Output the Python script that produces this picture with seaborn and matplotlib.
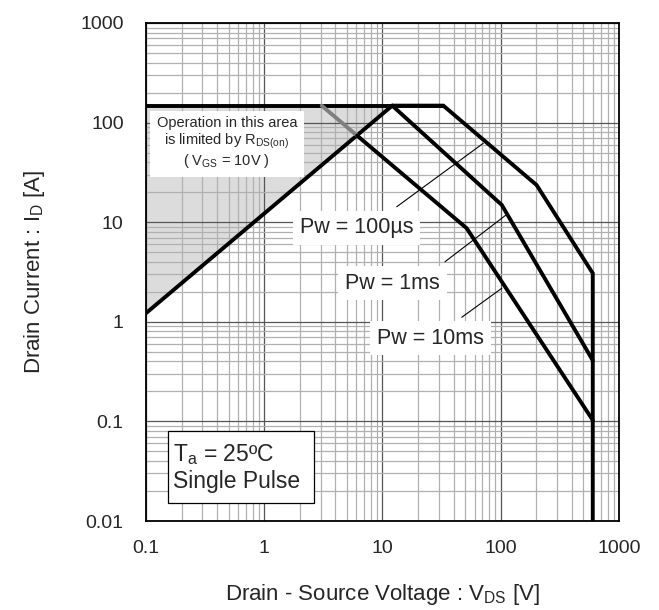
import matplotlib
matplotlib.use("Agg")
import matplotlib.pyplot as plt
from matplotlib.patches import Rectangle
import seaborn as sns
import pandas as pd

# ==========================================
# Data
# ==========================================

id_max = 148

top_v = [0.1, 32.7]
top_i = [id_max, id_max]

rds_v = [0.1, 12.1]
rds_i = [1.22, id_max]

pw100_v = [12.1, 32.7, 201, 600, 600]
pw100_i = [id_max, id_max, 23.6, 3.07, 0.01]

pw1ms_v = [12.1, 102, 600]
pw1ms_i = [id_max, 14.9, 0.41]

pw10ms_v = [6.1, 51.5, 600]
pw10ms_i = [74, 8.7, 0.103]

pw10ms_gray_v = [3.06, 6.1]
pw10ms_gray_i = [id_max, 74]

labels = ["Pw = 100µs", "Pw = 1ms", "Pw = 10ms"]
label_v = [2.0, 4.82, 8.98]
label_i = [8.75, 2.45, 0.687]
leader_v = [[13.2, 71.2], [33.8, 110.7], [46.8, 102]]
leader_i = [[14.3, 62.0], [4.01, 11.8], [1.11, 2.17]]

x_ticks = [0.1, 1, 10, 100, 1000]
x_ticklabels = ["0.1", "1", "10", "100", "1000"]
y_ticks = [0.01, 0.1, 1, 10, 100, 1000]
y_ticklabels = ["0.01", "0.1", "1", "10", "100", "1000"]

# ==========================================
# Style
# ==========================================

sns.set_style("white")
plt.rcParams["font.family"] = ["Liberation Sans", "DejaVu Sans"]
plt.rcParams["mathtext.fontset"] = "custom"
plt.rcParams["mathtext.rm"] = "Liberation Sans"

fig = plt.figure(figsize=(6.59, 6.10), dpi=100)
ax = fig.add_axes([0.2215, 0.1459, 0.7178, 0.8164])

ax.set_xscale("log")
ax.set_yscale("log")
ax.set_xlim(0.1, 1000)
ax.set_ylim(0.01, 1000)

# ==========================================
# Grid
# ==========================================

ax.grid(True, which="major", color="#555555", linewidth=0.9, zorder=1.5)
ax.grid(True, which="minor", color="#b0b0b0", linewidth=0.9, zorder=1.5)
ax.set_axisbelow("line")

# ==========================================
# Shaded R_DS(on) area
# ==========================================

ax.fill_between(rds_v, rds_i, id_max, color="#dcdcdc", zorder=1.0, linewidth=0)

# ==========================================
# Curves
# ==========================================

def draw(v, i, color="black", lw=2.8):
    df = pd.DataFrame({"VDS": v, "ID": i})
    sns.lineplot(data=df, x="VDS", y="ID", sort=False, estimator=None,
                 color=color, linewidth=lw, ax=ax, zorder=3,
                 solid_joinstyle="miter")

draw(top_v, top_i)
draw(rds_v, rds_i)
draw(pw10ms_gray_v, pw10ms_gray_i, color="#7f7f7f")
draw(pw100_v, pw100_i)
draw(pw1ms_v, pw1ms_i)
draw(pw10ms_v, pw10ms_i)

for lv, li in zip(leader_v, leader_i):
    ax.plot(lv, li, color="black", linewidth=0.8, zorder=3)

for text, tv, ti in zip(labels, label_v, label_i):
    ax.text(tv, ti, text, fontsize=15.5, ha="left", va="center", zorder=4,
            bbox=dict(facecolor="white", edgecolor="none", pad=5))

# ==========================================
# Annotation boxes
# ==========================================

ax.text(0.171, 0.759,
        "Operation in this area\n"
        "is limited by R$_\\mathregular{DS(on)}$\n"
        "( V$_\\mathregular{GS}$ = 10V )",
        transform=ax.transAxes, fontsize=10.5, ha="center", va="center",
        linespacing=1.1, zorder=4,
        bbox=dict(facecolor="white", edgecolor="none", pad=5))

ax.add_patch(Rectangle((0.0465, 0.036), 0.3085, 0.145, transform=ax.transAxes,
                       facecolor="white", edgecolor="black", linewidth=0.9,
                       zorder=4))
ax.text(0.057, 0.1325, "T$_\\mathregular{a}$ = 25ºC",
        transform=ax.transAxes, fontsize=16.5, ha="left", va="center", zorder=5)
ax.text(0.057, 0.080, "Single Pulse",
        transform=ax.transAxes, fontsize=16.5, ha="left", va="center", zorder=5)

# ==========================================
# Axes
# ==========================================

ax.set_xticks(x_ticks)
ax.set_xticklabels(x_ticklabels, fontsize=14)
ax.set_yticks(y_ticks)
ax.set_yticklabels(y_ticklabels, fontsize=14)
ax.tick_params(axis="both", which="both", length=0)
ax.tick_params(axis="x", pad=14)
ax.tick_params(axis="y", pad=16)

for s in ax.spines.values():
    s.set_visible(True)
    s.set_color("black")
    s.set_linewidth(1.3)

ax.set_xlabel("Drain - Source Voltage : V$_\\mathregular{DS}$ [V]", fontsize=16, labelpad=18)
ax.set_ylabel("Drain Current : I$_\\mathregular{D}$ [A]", fontsize=16, labelpad=24)

fig.savefig("out.png", dpi=100)
